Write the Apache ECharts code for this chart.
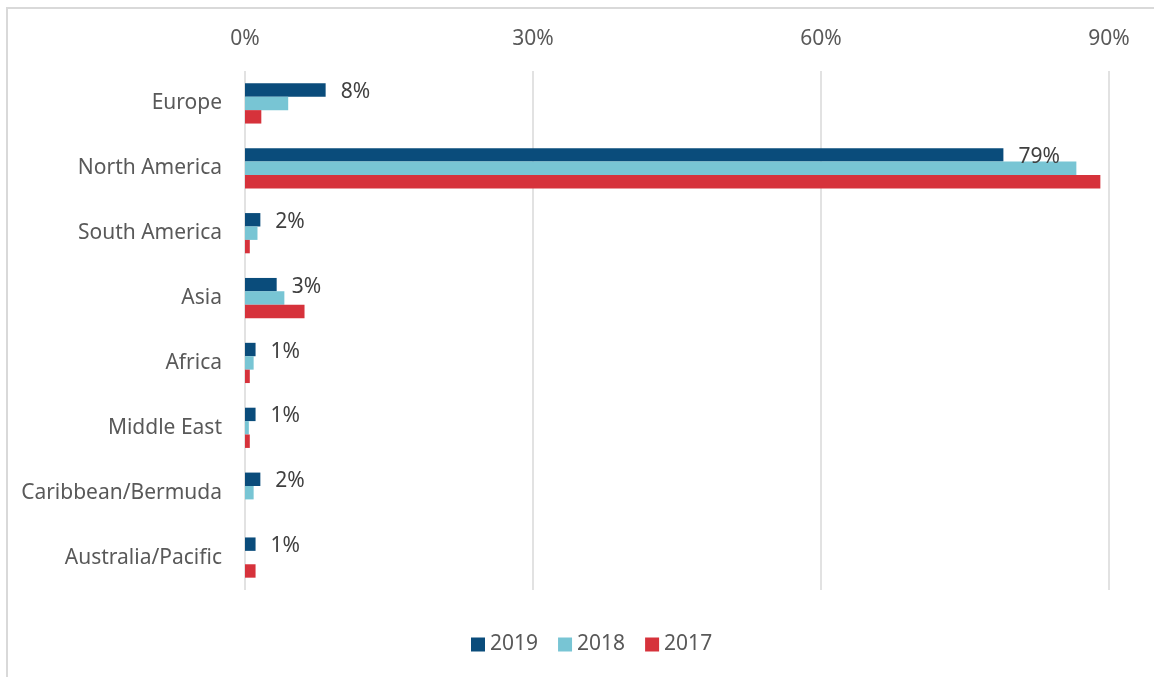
<!DOCTYPE html>
<html>
<head>
<meta charset="utf-8">
<script src="https://cdn.jsdelivr.net/npm/echarts@6/dist/echarts.min.js"></script>
<style>html,body{margin:0;padding:0;background:#fff;}#chart{width:1154px;height:677px;}</style>
</head>
<body>
<div id="chart"></div>
<script>
const categories = ['Europe','North America','South America','Asia','Africa','Middle East','Caribbean/Bermuda','Australia/Pacific'];
const years = ['2019','2018','2017'];
const values2019 = [8.4, 79.0, 1.6, 3.3, 1.1, 1.1, 1.6, 1.1];
const values2018 = [4.5, 86.6, 1.3, 4.1, 0.9, 0.4, 0.9, 0];
const values2017 = [1.7, 89.1, 0.5, 6.2, 0.5, 0.5, 0, 1.1];
const xTicks = [0, 30, 60, 90];

const font = '"Noto Sans", "Open Sans", sans-serif';
const chart = echarts.init(document.getElementById('chart'), null, {renderer:'canvas'});
chart.setOption({
  animation: false,
  textStyle: {fontFamily: font},
  graphic: [{
    type: 'rect', silent: true,
    shape: {x: 7, y: 8, width: 1200, height: 720},
    style: {fill: 'none', stroke: '#d9d9d9', lineWidth: 2}
  }],
  grid: {left: 245, right: 45, top: 71, bottom: 87, containLabel: false},
  legend: {
    data: years, top: 629, left: 466,
    itemWidth: 14, itemHeight: 14, itemGap: 20,
    icon: 'rect',
    textStyle: {fontSize: 21, color: '#595959', fontFamily: font}
  },
  xAxis: {
    type: 'value', position: 'top',
    min: xTicks[0], max: xTicks[xTicks.length-1], interval: 30,
    axisLine: {show: false}, axisTick: {show: false},
    axisLabel: {formatter: '{value}%', fontSize: 21, color: '#595959', margin: 21, fontFamily: font},
    splitLine: {lineStyle: {color: '#d9d9d9', width: 1.5}}
  },
  yAxis: {
    type: 'category', data: categories, inverse: true,
    axisLine: {show: false}, axisTick: {show: false},
    axisLabel: {fontSize: 21, color: '#595959', margin: 23, fontFamily: font}
  },
  series: [
    {name: '2019', type: 'bar', data: values2019, itemStyle: {color: '#0a4c7b'},
     barGap: '0%', barCategoryGap: '38%',
     label: {show: true, position: 'right', distance: 15, fontSize: 21, color: '#404040', fontFamily: font,
             offset: [0, 2],
             formatter: p => Math.round(p.value) + '%'}},
    {name: '2018', type: 'bar', data: values2018, itemStyle: {color: '#78c5d4'}, barGap: '0%', barCategoryGap: '38%'},
    {name: '2017', type: 'bar', data: values2017, itemStyle: {color: '#d6323b'}, barGap: '0%', barCategoryGap: '38%'}
  ]
});
</script>
</body>
</html>
